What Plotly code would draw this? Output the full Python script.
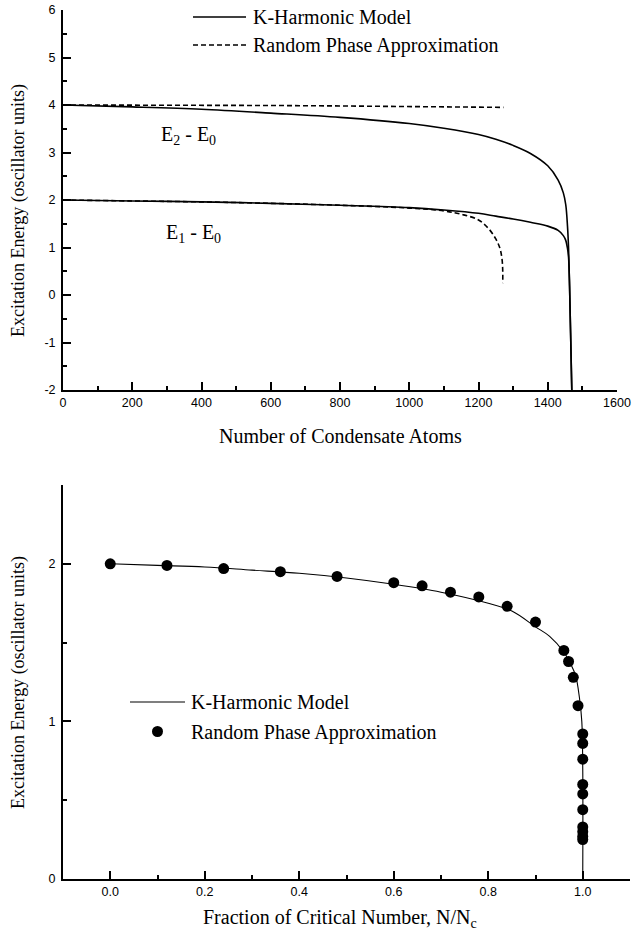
import plotly.graph_objects as go

# ---------------- data: top panel ----------------
khm_e2_n = [0, 200, 400, 600, 800, 1000, 1100, 1200, 1250, 1300, 1350, 1400, 1430, 1445, 1452, 1457, 1460, 1463, 1466, 1470]
khm_e2_e = [4.0, 3.96, 3.91, 3.83, 3.74, 3.61, 3.51, 3.38, 3.28, 3.15, 2.98, 2.72, 2.42, 2.15, 1.90, 1.45, 1.0, 0.2, -0.8, -2.2]

khm_e1_n = [0, 200, 400, 600, 800, 1000, 1100, 1200, 1250, 1300, 1350, 1400, 1430, 1445, 1452, 1457, 1460, 1463, 1466, 1470]
khm_e1_e = [2.0, 1.98, 1.96, 1.93, 1.89, 1.84, 1.79, 1.72, 1.66, 1.60, 1.53, 1.45, 1.36, 1.25, 1.15, 0.98, 0.80, 0.2, -0.8, -2.2]

rpa_e2_n = [0, 200, 400, 600, 800, 1000, 1200, 1272]
rpa_e2_e = [4.0, 4.0, 3.99, 3.99, 3.98, 3.97, 3.96, 3.95]

rpa_e1_n = [0, 200, 400, 600, 800, 1000, 1100, 1150, 1200, 1230, 1250, 1262, 1268, 1270, 1270]
rpa_e1_e = [2.0, 1.98, 1.96, 1.93, 1.89, 1.83, 1.77, 1.70, 1.58, 1.39, 1.18, 0.98, 0.75, 0.5, 0.25]

# ---------------- data: bottom panel ----------------
khm_frac = [0, 0.1, 0.2, 0.3, 0.4, 0.5, 0.6, 0.7, 0.8, 0.85, 0.9, 0.93, 0.96, 0.975, 0.985, 0.993, 0.998, 1.0, 1.0]
khm_frac_e = [2.0, 1.99, 1.98, 1.96, 1.94, 1.91, 1.87, 1.82, 1.75, 1.70, 1.60, 1.54, 1.44, 1.36, 1.29, 1.15, 1.0, 0.7, 0.0]

rpa_frac = [0.0, 0.12, 0.24, 0.36, 0.48, 0.60, 0.66, 0.72, 0.78, 0.84, 0.90, 0.96, 0.97, 0.98, 0.99,
            1.0, 1.0, 1.0, 1.0, 1.0, 1.0, 1.0, 1.0, 1.0, 1.0]
rpa_frac_e = [2.0, 1.99, 1.97, 1.95, 1.92, 1.88, 1.86, 1.82, 1.79, 1.73, 1.63, 1.45, 1.38, 1.28, 1.10,
              0.92, 0.86, 0.76, 0.60, 0.54, 0.44, 0.33, 0.30, 0.27, 0.25]

top_xticks = [0, 200, 400, 600, 800, 1000, 1200, 1400, 1600]
top_yticks = [-2, -1, 0, 1, 2, 3, 4, 5, 6]
top_yticklabels = ["-2", "-1", "0", "1", "2", "3", "4", "5", "6"]
bot_xticks = [0.0, 0.2, 0.4, 0.6, 0.8, 1.0]
bot_xticklabels = ["0.0", "0.2", "0.4", "0.6", "0.8", "1.0"]
bot_yticks = [0, 1, 2]

SERIF = "Liberation Serif, Times New Roman, serif"
SANS = "Liberation Sans, Arial, sans-serif"
W, H = 636, 944

fig = go.Figure()

lw = 1.6
fig.add_trace(go.Scatter(x=khm_e2_n, y=khm_e2_e, mode="lines", line=dict(color="black", width=lw),
                         xaxis="x", yaxis="y", showlegend=False, line_shape="spline"))
fig.add_trace(go.Scatter(x=khm_e1_n, y=khm_e1_e, mode="lines", line=dict(color="black", width=lw),
                         xaxis="x", yaxis="y", showlegend=False, line_shape="spline"))
fig.add_trace(go.Scatter(x=rpa_e2_n, y=rpa_e2_e, mode="lines", line=dict(color="black", width=lw, dash="5px,3px"),
                         xaxis="x", yaxis="y", showlegend=False))
fig.add_trace(go.Scatter(x=rpa_e1_n, y=rpa_e1_e, mode="lines", line=dict(color="black", width=lw, dash="5px,3px"),
                         xaxis="x", yaxis="y", showlegend=False, line_shape="spline"))

fig.add_trace(go.Scatter(x=khm_frac, y=khm_frac_e, mode="lines", line=dict(color="black", width=1.1),
                         xaxis="x2", yaxis="y2", showlegend=False, line_shape="spline"))
fig.add_trace(go.Scatter(x=rpa_frac, y=rpa_frac_e, mode="markers",
                         marker=dict(color="black", size=11, line=dict(width=0)),
                         xaxis="x2", yaxis="y2", showlegend=False, cliponaxis=False))

def px(x):
    return x / W

def py(y):
    return 1 - y / H

axis_common = dict(showgrid=False, zeroline=False, showline=True, linecolor="black", linewidth=2,
                   ticks="inside", ticklen=8, tickwidth=2, tickcolor="black", automargin=False,
                   tickfont=dict(family=SANS, size=12.5, color="black"), mirror=False)

fig.update_layout(
    template="none",
    width=W, height=H, margin=dict(l=0, r=0, t=0, b=0, autoexpand=False),
    paper_bgcolor="white", plot_bgcolor="white",
    xaxis=dict(domain=[px(63), px(617)], range=[0, 1600], tickvals=top_xticks,
               minor=dict(dtick=100, tick0=0, ticks="inside", ticklen=4, tickwidth=2, tickcolor="black"),
               anchor="y", **axis_common),
    yaxis=dict(domain=[py(390), py(10)], range=[-2, 6], tickvals=top_yticks, ticktext=top_yticklabels,
               minor=dict(dtick=0.5, tick0=0, ticks="inside", ticklen=4, tickwidth=2, tickcolor="black"),
               anchor="x", ticklabelstandoff=3, **axis_common),
    xaxis2=dict(domain=[px(63), px(630)], range=[-0.1, 1.1], tickvals=bot_xticks, ticktext=bot_xticklabels,
                minor=dict(dtick=0.1, tick0=0, ticks="inside", ticklen=4, tickwidth=2, tickcolor="black"),
                anchor="y2", **axis_common),
    yaxis2=dict(domain=[py(879), py(485)], range=[0, 2.5], tickvals=bot_yticks,
                minor=dict(dtick=0.5, tick0=0, ticks="inside", ticklen=4, tickwidth=2, tickcolor="black"),
                anchor="x2", ticklabelstandoff=3, **axis_common),
)

def note(text, x, y, xref="paper", yref="paper", xanchor="center", size=20, angle=0):
    return dict(text=text, x=x, y=y, xref=xref, yref=yref, xanchor=xanchor, yanchor="middle",
                showarrow=False, textangle=angle, font=dict(family=SERIF, size=size, color="black"))

ann = [
    note("Number of Condensate Atoms", px(340), py(436)),
    note("Fraction of Critical Number, N/N<sub>c</sub>", px(340), py(918)),
    note("Excitation Energy (oscillator units)", px(18), py(211), size=18, angle=-90),
    note("Excitation Energy (oscillator units)", px(18), py(683), size=18, angle=-90),
    note("E<sub>2</sub> - E<sub>0</sub>", px(188), py(135)),
    note("E<sub>1</sub> - E<sub>0</sub>", px(193), py(233)),
    note("K-Harmonic Model", px(251), py(17), xanchor="left"),
    note("Random Phase Approximation", px(251), py(45), xanchor="left"),
    note("K-Harmonic Model", px(189), py(702), xanchor="left"),
    note("Random Phase Approximation", px(189), py(732), xanchor="left"),
]
fig.update_layout(annotations=ann)

shapes = [
    dict(type="line", xref="paper", yref="paper", x0=px(193), x1=px(246), y0=py(17), y1=py(17),
         line=dict(color="black", width=1.6)),
    dict(type="line", xref="paper", yref="paper", x0=px(193), x1=px(246), y0=py(45), y1=py(45),
         line=dict(color="black", width=1.6, dash="5px,3px")),
    dict(type="line", xref="paper", yref="paper", x0=px(130), x1=px(185), y0=py(702), y1=py(702),
         line=dict(color="black", width=1.1)),
    dict(type="circle", xref="paper", yref="paper", x0=px(152), x1=px(163), y0=py(737), y1=py(726),
         fillcolor="black", line=dict(color="black", width=0)),
]
fig.update_layout(shapes=shapes)

fig.write_html("out.html")
